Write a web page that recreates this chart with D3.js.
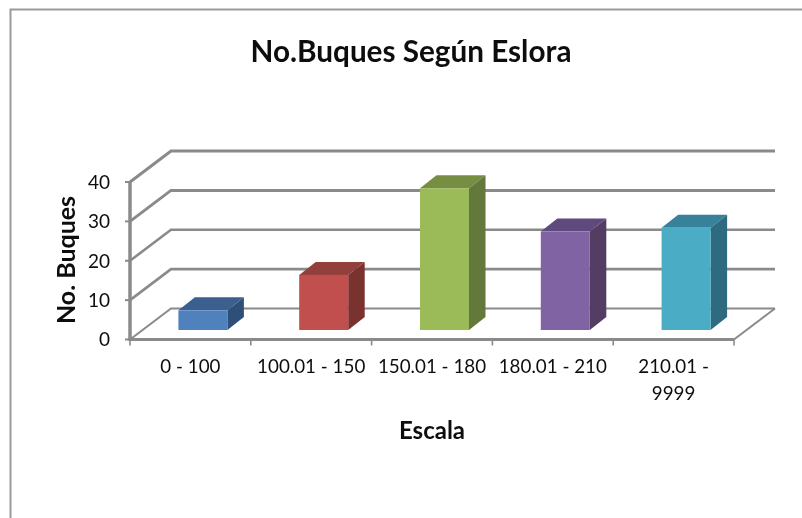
<!DOCTYPE html>
<html><head><meta charset="utf-8">
<script src="https://cdn.jsdelivr.net/npm/d3@7"></script>
<style>html,body{margin:0;padding:0;background:#fff}svg{display:block}text{font-family:Lato,"Open Sans",sans-serif;fill:#111}</style>
</head><body><svg id="c" width="802" height="518"></svg>
<script>
const categories = ["0 - 100","100.01 - 150","150.01 - 180","180.01 - 210","210.01 - 9999"];
const values = [5,14,36,25,26];
const yTicks = [0,10,20,30,40];
const frontColors = ["#4f81bd","#c0504d","#9bbb59","#8064a2","#4bacc6"];
const topColors = ["#3a6190","#93403d","#768e43","#604a7b","#37819a"];
const sideColors = ["#2f5077","#7a312f","#64783a","#523e63","#2f6b80"];
const titleText = "No.Buques Según Eslora", yTitle = "No. Buques", xTitle = "Escala";

const svg = d3.select("#c");
const defs = svg.append("defs");
defs.append("filter").attr("id","soft").attr("x","-5%").attr("y","-5%").attr("width","110%").attr("height","110%")
  .append("feGaussianBlur").attr("stdDeviation",0.45);
const root = svg.append("g").attr("filter","url(#soft)");

const x = d3.scaleBand().domain(categories).range([130,734]);
const y = d3.scaleLinear().domain([0,40]).range([339.5,182]);
const depth = {dx:41, dy:-31};
const barW = 49, barDx = 16.5, barDy = -13, baseDx = 12.5, baseDy = -9.5;
const grey = "#8a8a8a";

// chart frame
root.append("path").attr("d","M10.5 518V9.5H802").attr("fill","none").attr("stroke","#9a9a9a").attr("stroke-width",2);

// walls
yTicks.forEach(t=>{
  const yy=y(t);
  root.append("path").attr("d",`M${x.range()[0]} ${yy}L${x.range()[0]+depth.dx} ${yy+depth.dy}H${x.range()[1]+depth.dx}`)
    .attr("fill","none").attr("stroke",grey).attr("stroke-width",t===0?2:(t===30||t===40?3:2.6));
  root.append("line").attr("x1",125).attr("x2",130).attr("y1",yy).attr("y2",yy).attr("stroke",grey).attr("stroke-width",2);
  root.append("text").attr("x",110).attr("y",yy).attr("dy","0.36em").attr("text-anchor","end").attr("font-size",19).text(t);
});
// floor right edge
root.append("line").attr("x1",x.range()[1]).attr("y1",y(0)).attr("x2",x.range()[1]+depth.dx).attr("y2",y(0)+depth.dy).attr("stroke",grey).attr("stroke-width",2);
// axes
root.append("line").attr("x1",130).attr("x2",130).attr("y1",y(40)).attr("y2",y(0)+1).attr("stroke",grey).attr("stroke-width",3.5);
root.append("line").attr("x1",128.5).attr("x2",x.range()[1]).attr("y1",y(0)).attr("y2",y(0)).attr("stroke",grey).attr("stroke-width",3);
[...categories.map(c=>x(c)),x.range()[1]].forEach(p=>{
  root.append("line").attr("x1",p).attr("x2",p).attr("y1",y(0)).attr("y2",y(0)+6).attr("stroke",grey).attr("stroke-width",1.6);
});

// bars
categories.forEach((c,i)=>{
  const l=x(c)+(x.bandwidth()-barW)/2+baseDx, r=l+barW;
  const b=y(0)+baseDy, t=y(values[i])+baseDy;
  const g=root.append("g");
  g.append("path").attr("d",`M${l} ${t}L${l+barDx} ${t+barDy}H${r+barDx}L${r} ${t}Z`).attr("fill",topColors[i]);
  g.append("path").attr("d",`M${r} ${t}L${r+barDx} ${t+barDy}V${b+barDy}L${r} ${b}Z`).attr("fill",sideColors[i]);
  g.append("rect").attr("x",l).attr("y",t).attr("width",barW).attr("height",b-t).attr("fill",frontColors[i]);
});

// category labels
const lines = c => c==="210.01 - 9999" ? ["210.01 -","9999"] : [c];
categories.forEach(c=>{
  lines(c).forEach((s,j)=>{
    root.append("text").attr("x",x(c)+x.bandwidth()/2).attr("y",373+j*27).attr("text-anchor","middle").attr("font-size",18.8).text(s);
  });
});
root.append("text").attr("x",411).attr("y",62).attr("text-anchor","middle").attr("font-size",29.7).attr("font-weight",700).text(titleText);
root.append("text").attr("x",432).attr("y",439).attr("text-anchor","middle").attr("font-size",24).attr("font-weight",700).text(xTitle);
root.append("text").attr("transform","translate(75,260) rotate(-90)").attr("text-anchor","middle").attr("font-size",25).attr("font-weight",700).text(yTitle);
</script></body></html>
